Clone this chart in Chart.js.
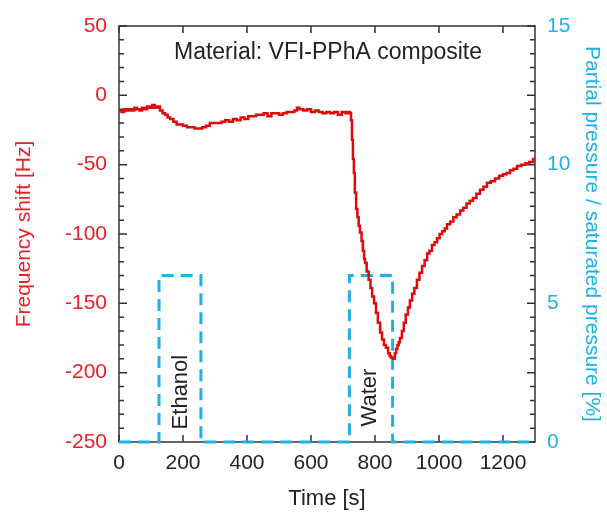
<!DOCTYPE html>
<html>
<head>
<meta charset="utf-8">
<script src="https://cdn.jsdelivr.net/npm/chart.js@4"></script>
<style>
  html, body { margin: 0; padding: 0; background: #fff; }
  #wrap { width: 607px; height: 512px; }
</style>
</head>
<body>
<div id="wrap"><canvas id="qcmChart"></canvas></div>
<script>
const timeSec = [
  0, 8, 16, 24, 32, 40, 48, 56, 64, 72, 80, 88, 96, 104, 112, 120, 128, 136,
  144, 152, 160, 170, 180, 190, 200, 212, 224, 236, 248, 260, 272, 284, 296,
  308, 320, 332, 344, 356, 368, 380, 392, 404, 416, 428, 440, 452, 464, 476,
  488, 500, 512, 524, 536, 548, 556, 564, 576, 588, 600, 612, 624, 636, 648,
  660, 672, 684, 696, 708, 716, 722, 725, 728, 731, 734, 737, 741, 745, 749,
  753, 758, 762, 766, 769, 774, 780, 786, 791, 797, 803, 809, 816, 822, 828,
  834, 841, 846, 850, 856, 862, 866, 870, 874, 878, 884, 890, 896, 903, 909,
  916, 923, 931, 939, 947, 955, 963, 970, 978, 986, 994, 1002, 1010, 1018,
  1025, 1035, 1045, 1055, 1066, 1076, 1086, 1096, 1106, 1117, 1128, 1139,
  1150, 1162, 1175, 1188, 1200, 1211, 1222, 1233, 1244, 1257, 1270, 1282,
  1294, 1300,
];

const freqShift = [
  -11, -12, -10, -11, -10, -11, -9, -10, -11, -9, -10, -8, -9, -7, -9, -8, -11, -13,
  -14, -16, -17, -19, -21, -21, -22, -23, -23, -24, -24, -23, -22, -20, -20,
  -20, -19, -18, -19, -17, -18, -16, -17, -15, -15, -14, -14, -13, -15, -13,
  -13, -14, -13, -12, -12, -11, -9, -10, -11, -10, -12, -11, -12, -13, -12,
  -13, -12, -14, -12, -13, -12, -13, -18, -32, -46, -56, -70, -82, -88, -94,
  -99, -105, -112, -118, -121, -127, -133, -139, -145, -150, -157, -164, -171, -176, -180,
  -182, -186, -188, -189, -190, -186, -183, -180, -178, -175, -170, -164, -158, -153, -148,
  -143, -139, -133, -128, -123, -119, -114, -112, -108, -106, -103, -100, -98, -96,
  -93, -91, -88, -86, -83, -81, -78, -76, -74, -71, -68, -66,
  -63, -62, -60, -58, -57, -56, -54, -53, -51, -50, -49, -48,
  -46, -45,
];

// partial pressure steps (ethanol pulse, then water pulse)
const pulseTime = [0, 125, 125, 256, 256, 720, 720, 855, 855, 1300];
const pulsePressure = [0, 0, 6, 6, 0, 0, 6, 6, 0, 0];

const pulseLabels = ["Ethanol", "Water"];
const pulseLabelTime = [194, 784];
const pulseLabelHz = [-214, -218];

const xTicks = [0, 200, 400, 600, 800, 1000, 1200];

const red = "#e8202a";
const blue = "#1eb0e6";
const font = "Liberation Sans, Arial, sans-serif";

const frameTicks = {
  id: "frameTicks",
  beforeDatasetsDraw(chart) {
    const { ctx, chartArea: a, scales } = chart;
    ctx.save();
    ctx.strokeStyle = "#333";
    ctx.lineWidth = 1.5;
    ctx.strokeRect(a.left, a.top, a.right - a.left, a.bottom - a.top);
    ctx.beginPath();
    for (let v = -250; v <= 50; v += 10) {
      const y = scales.y.getPixelForValue(v);
      const len = v % 50 === 0 ? 8 : 5;
      ctx.moveTo(a.left, y);
      ctx.lineTo(a.left + len, y);
      ctx.moveTo(a.right, y);
      ctx.lineTo(a.right - len, y);
    }
    xTicks.forEach((t) => {
      const x = scales.x.getPixelForValue(t);
      ctx.moveTo(x, a.top);
      ctx.lineTo(x, a.top + 7);
      ctx.moveTo(x, a.bottom);
      ctx.lineTo(x, a.bottom - 7);
    });
    ctx.stroke();
    ctx.restore();
  },
  afterDatasetsDraw(chart) {
    const { ctx, chartArea: a, scales } = chart;
    ctx.save();
    ctx.fillStyle = "#222";
    ctx.font = "23px " + font;
    ctx.textAlign = "center";
    ctx.textBaseline = "middle";
    ctx.fillText("Material: VFI-PPhA composite", (a.left + a.right) / 2 + 1, 53);
    ctx.font = "22px " + font;
    pulseLabels.forEach((txt, i) => {
      const x = scales.x.getPixelForValue(pulseLabelTime[i]);
      const y = scales.y.getPixelForValue(pulseLabelHz[i]);
      ctx.save();
      ctx.translate(x, y);
      ctx.rotate(-Math.PI / 2);
      ctx.fillText(txt, 0, 0);
      ctx.restore();
    });
    ctx.restore();
  },
};

const qcmChart = new Chart(document.getElementById("qcmChart"), {
  type: "line",
  data: {
    datasets: [
      {
        label: "Frequency shift",
        data: timeSec.map((t, i) => ({ x: t, y: freqShift[i] })),
        borderColor: "#e00a0a",
        borderWidth: 2.5,
        pointRadius: 0,
        stepped: true,
        yAxisID: "y",
      },
      {
        label: "Partial pressure",
        data: pulseTime.map((t, i) => ({ x: t, y: pulsePressure[i] })),
        borderColor: blue,
        borderWidth: 3,
        borderDash: [12, 7],
        pointRadius: 0,
        tension: 0,
        clip: false,
        yAxisID: "y2",
      },
    ],
  },
  options: {
    responsive: true,
    maintainAspectRatio: false,
    animation: false,
    layout: { padding: { top: 26, right: 0, left: 0, bottom: 0 } },
    plugins: {
      legend: { display: false },
      tooltip: { enabled: false },
    },
    scales: {
      x: {
        type: "linear",
        min: 0,
        max: 1300,
        afterFit: (s) => { s.height = 70; },
        afterBuildTicks: (s) => { s.ticks = xTicks.map((v) => ({ value: v })); },
        grid: { display: false, drawTicks: false },
        border: { display: false },
        ticks: {
          color: "#222",
          font: { family: font, size: 21 },
          padding: 9,
          maxRotation: 0,
          callback: (v) => String(v),
        },
        title: {
          display: true,
          text: "Time [s]",
          color: "#222",
          font: { family: font, size: 22 },
          padding: { top: 0, bottom: 0 },
        },
      },
      y: {
        position: "left",
        min: -250,
        max: 50,
        afterFit: (s) => { s.width = 119; },
        grid: { display: false, drawTicks: false },
        border: { display: false },
        ticks: {
          stepSize: 50,
          color: red,
          font: { family: font, size: 21 },
          padding: 12,
          callback: (v) => String(v),
        },
        title: {
          display: true,
          text: "Frequency shift [Hz]",
          color: red,
          font: { family: font, size: 21 },
          padding: { top: 12, bottom: 0 },
        },
      },
      y2: {
        position: "right",
        min: 0,
        max: 15,
        afterFit: (s) => { s.width = 72; },
        grid: { display: false, drawTicks: false },
        border: { display: false },
        ticks: {
          stepSize: 5,
          color: blue,
          font: { family: font, size: 21 },
          padding: 12,
          callback: (v) => String(v),
        },
        title: {
          display: true,
          text: "Partial pressure / saturated pressure [%]",
          color: blue,
          font: { family: font, size: 21 },
          padding: { top: 3, bottom: 0 },
        },
      },
    },
  },
  plugins: [frameTicks],
});
</script>
</body>
</html>
